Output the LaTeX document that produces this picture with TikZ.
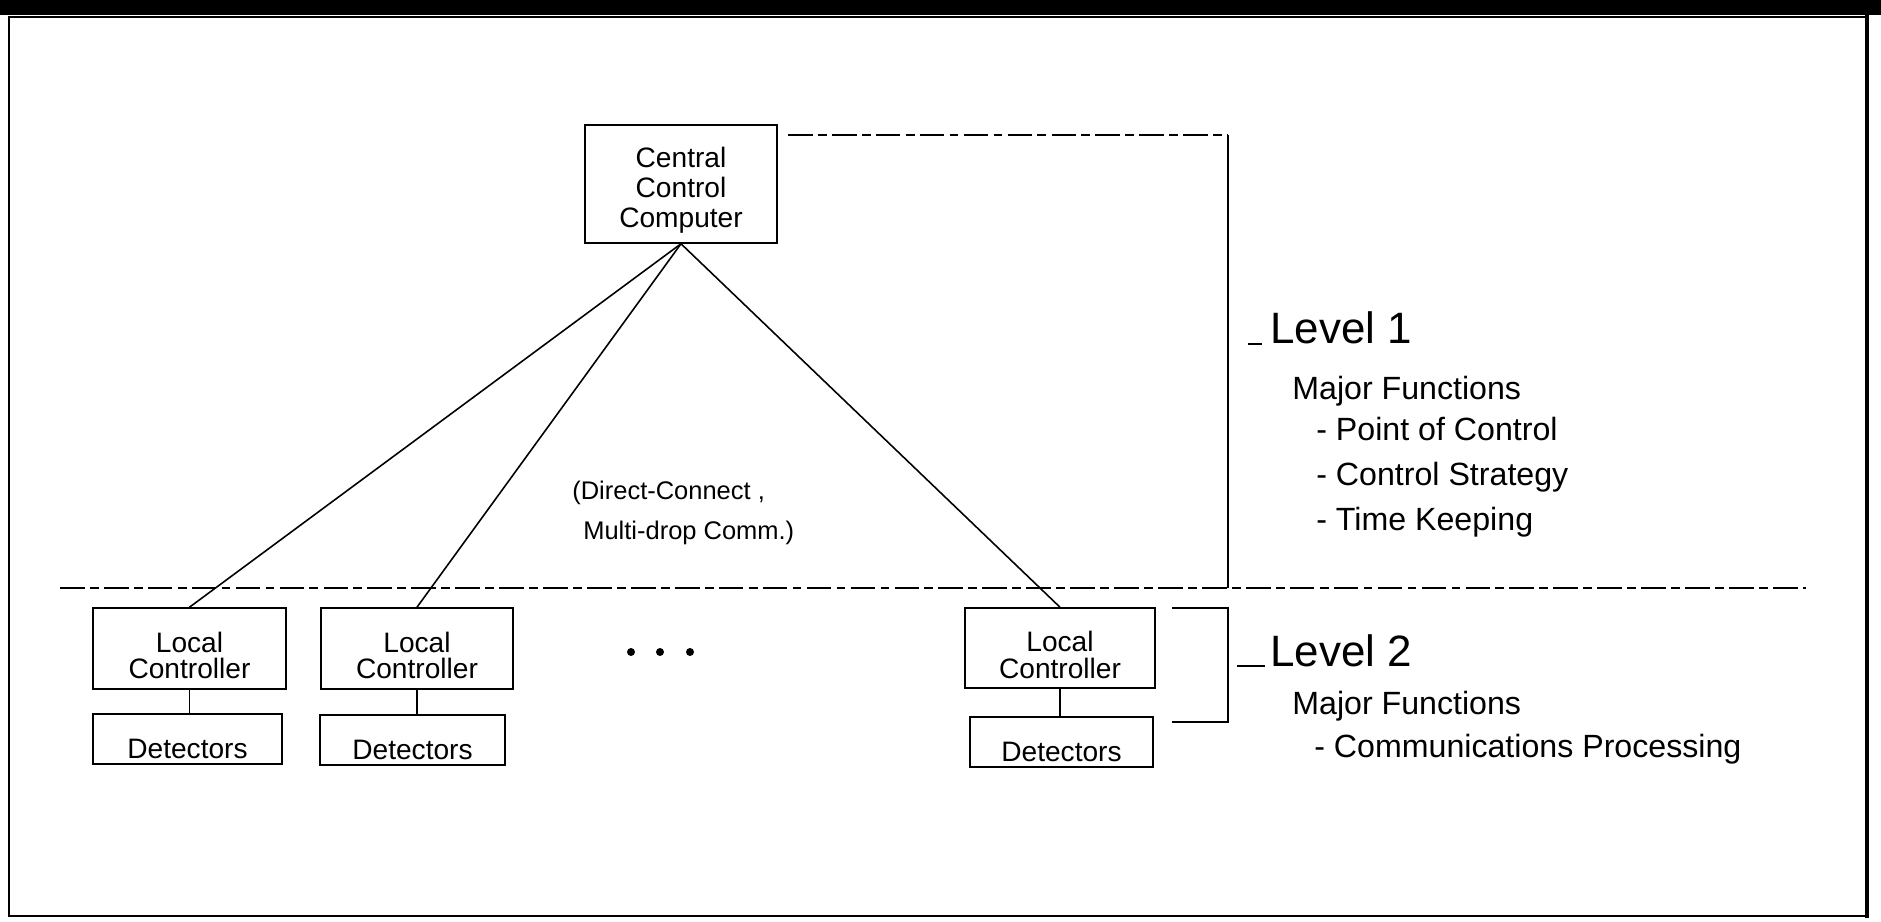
\documentclass[tikz,border=0pt]{standalone}
\usepackage{fontspec}
\setmainfont{Liberation Sans}
\usetikzlibrary{positioning,calc}

\begin{document}
\begin{tikzpicture}[x=0.02cm, y=-0.02cm,
  box/.style={draw, line width=0.9pt, inner sep=0pt, align=center,
    font=\fontsize{16}{15}\selectfont},
  lcbox/.style={box, text height=34.7pt},
  detbox/.style={box, minimum height=1cm, inner ysep=0pt,
    text height=25.4pt, text depth=3pt},
  wire/.style={line width=0.9pt},
  sepline/.style={line width=0.9pt, dash pattern=on 14pt off 3pt on 5pt off 3pt},
  levelhead/.style={anchor=base west, inner sep=0pt, font=\fontsize{25}{26}\selectfont},
  func/.style={anchor=base west, inner sep=0pt, font=\fontsize{18.3}{20}\selectfont},
  note/.style={anchor=base west, inner sep=0pt, font=\fontsize{14.5}{16}\selectfont}]

  \useasboundingbox (0,0) rectangle (1881,922);

  % Page frame of the scan
  \fill (0,0) rectangle (1881,15);
  \draw[line width=1.2pt] (1867,17) -- (9,17) -- (9,916) -- (1867,916);
  \draw[line width=2.2pt] (1867,15) -- (1867,918);

  % Level 1: central computer
  \node[box, minimum width=3.84cm, minimum height=2.36cm, text height=52.6pt,
    font=\fontsize{16}{17}\selectfont] (ccc) at (681,184) {Central\\Control\\Computer};

  % Level 2: local controllers and detectors
  \node[lcbox, minimum width=3.86cm, minimum height=1.62cm] (lc1) at (189.5,648.5) {Local\\Controller};
  \node[lcbox, minimum width=3.84cm, minimum height=1.62cm] (lc2) at (417,648.5) {Local\\Controller};
  \node[lcbox, minimum width=3.80cm, minimum height=1.60cm] (lc3) at (1060,648) {Local\\Controller};

  \node[detbox, minimum width=3.78cm] (det1) at (187.5,739) {Detectors};
  \node[detbox, minimum width=3.70cm] (det2) at (412.5,740) {Detectors};
  \node[detbox, minimum width=3.66cm] (det3) at (1061.5,742) {Detectors};

  \foreach \x in {631,660,690}
    \fill (\x,652) circle (0.08cm);

  % Links
  \foreach \lc in {lc1,lc2,lc3}
    \draw[wire] (ccc.south) -- (\lc.north);
  \draw[wire] (lc1.south) -- (lc1.south |- det1.north);
  \draw[wire] (lc2.south) -- (lc2.south |- det2.north);
  \draw[wire] (lc3.south) -- (lc3.south |- det3.north);

  \node[note] (comm1) at (572,500) {(Direct-Connect ,};
  \node[note] (comm2) at (583,539) {Multi-drop Comm.)};

  % Level boundary and brackets
  \coordinate (sepW) at (60,588);
  \coordinate (sepE) at (1806,588);
  \draw[sepline] (sepW) -- (sepE);

  \coordinate (br1a) at (788,135);
  \coordinate (br1b) at (1228,135);
  \coordinate (br1c) at (1228,588);
  \draw[sepline] (br1a) -- (br1b);
  \draw[wire] (br1b) -- (br1c);

  \coordinate (br2a) at (1172,608);
  \coordinate (br2d) at (1172,722);
  \draw[wire] (br2a) -- (1228,608) -- (1228,722) -- (br2d);

  % Level descriptions
  \node[levelhead] (lev1) at (1270,344) {Level 1};
  \draw[wire, line width=0.6pt] ($(lev1.base west)+(-22,0)$) -- ($(lev1.base west)+(-8,0)$);
  \node[func] (maj1) at (1292,399) {Major Functions};
  \node[func] (f11) at (1316,440) {- Point of Control};
  \node[func] (f12) at (1316,485) {- Control Strategy};
  \node[func] (f13) at (1316,530) {- Time Keeping};

  \node[levelhead] (lev2) at (1270,666) {Level 2};
  \draw[wire, line width=0.6pt] ($(lev2.base west)+(-33,0)$) -- ($(lev2.base west)+(-5,0)$);
  \node[func] (maj2) at (1292,714) {Major Functions};
  \node[func] (f21) at (1314,757) {- Communications Processing};
\end{tikzpicture}
\end{document}
